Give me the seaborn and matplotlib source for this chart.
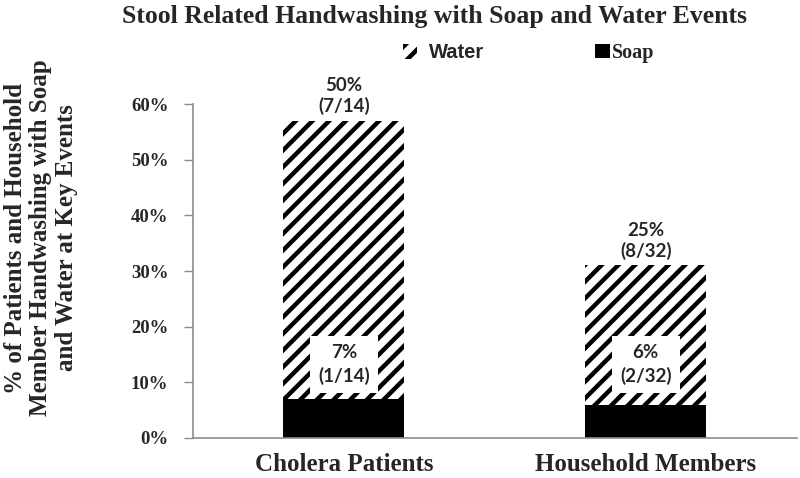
import matplotlib
matplotlib.use("Agg")
import matplotlib.pyplot as plt
from matplotlib.patches import Patch
from matplotlib.font_manager import FontProperties
import seaborn as sns
import pandas as pd

# --- data ---
groups = ["Cholera Patients", "Household Members"]
soap_pct = [7, 6]
water_pct = [50, 25]
soap_labels = ["7%\n(1/14)", "6%\n(2/32)"]
water_labels = ["50%\n(7/14)", "25%\n(8/32)"]
yticks = [0, 10, 20, 30, 40, 50, 60]

df = pd.DataFrame({"group": groups, "soap": soap_pct, "water": water_pct})
df["total"] = df["soap"] + df["water"]

sns.set_style("white")
plt.rcParams["hatch.linewidth"] = 3.2
plt.rcParams["hatch.color"] = "black"

SERIF = "Liberation Serif"
SANS = "Lato"
ARIAL = "Liberation Sans"
GREY = "#8c8c8c"

fig = plt.figure(figsize=(8, 4.78), dpi=100)
ax = fig.add_axes([0.241, 0.0837, 0.755, 0.6987])

# water stacked on top of soap -> draw total hatched, then soap solid over it
sns.barplot(data=df, x="group", y="total", color="white", saturation=1,
            width=0.4, edgecolor="black", linewidth=0, hatch="//", ax=ax)
sns.barplot(data=df, x="group", y="soap", color="black", saturation=1,
            width=0.4, linewidth=0, ax=ax)

ax.set_xlim(-0.5, 1.5)
ax.set_ylim(0, 60)
ax.set_yticks(yticks)
ax.set_yticklabels([f"{v}%" for v in yticks], fontfamily=SERIF,
                   fontweight="bold", fontsize=13.5)
ax.set_xticks(range(len(groups)))
ax.set_xticklabels(groups, fontfamily=SERIF, fontweight="bold", fontsize=18)
ax.tick_params(axis="y", length=6.5, color=GREY, width=1, left=True, pad=11)
ax.tick_params(axis="x", length=0, pad=11)
ax.set_xlabel("")
ax.set_ylabel("")

for s in ["top", "right"]:
    ax.spines[s].set_visible(False)
for s in ["left", "bottom"]:
    ax.spines[s].set_color(GREY)
    ax.spines[s].set_linewidth(1.2)

# labels
for i in range(len(groups)):
    ax.annotate(water_labels[i], (i, df["total"][i]), xytext=(0, 4),
                textcoords="offset points", ha="center", va="bottom",
                fontfamily=SANS, fontweight="bold", fontsize=13.5,
                linespacing=1.2)
    ax.text(i, 13.2, soap_labels[i], ha="center", va="center",
            fontfamily=SANS, fontweight="bold", fontsize=13.5, linespacing=1.35,
            bbox=dict(facecolor="white", edgecolor="none", pad=6))

fig.text(0.5425, 0.965, "Stool Related Handwashing with Soap and Water Events",
         ha="center", va="center", fontfamily=SERIF, fontweight="bold",
         fontsize=18.5)
fig.text(0.051, 0.502, "% of Patients and Household\nMember Handwashing with Soap\nand Water at Key Events",
         rotation=90, ha="center", va="center", fontfamily=SERIF,
         fontweight="bold", fontsize=18, linespacing=1.15)

# legend: two separate entries (different fonts and spacing in the original)
water_h = Patch(facecolor="white", edgecolor="black", linewidth=0, hatch="//")
soap_h = Patch(facecolor="black", edgecolor="black", linewidth=0)
fig.legend([water_h], ["Water"], loc="center left",
           bbox_to_anchor=(403 / 800, 1 - 53 / 478), frameon=False,
           borderpad=0, borderaxespad=0, handlelength=0.7,
           handleheight=0.7, handletextpad=0.6,
           prop=FontProperties(family=ARIAL, weight="bold", size=14.5))
fig.legend([soap_h], ["Soap"], loc="center left",
           bbox_to_anchor=(595 / 800, 1 - 53 / 478), frameon=False,
           borderpad=0, borderaxespad=0, handlelength=0.72,
           handleheight=0.72, handletextpad=0.1,
           prop=FontProperties(family=SERIF, weight="bold", size=14.5))

fig.savefig("out.png", dpi=100)
